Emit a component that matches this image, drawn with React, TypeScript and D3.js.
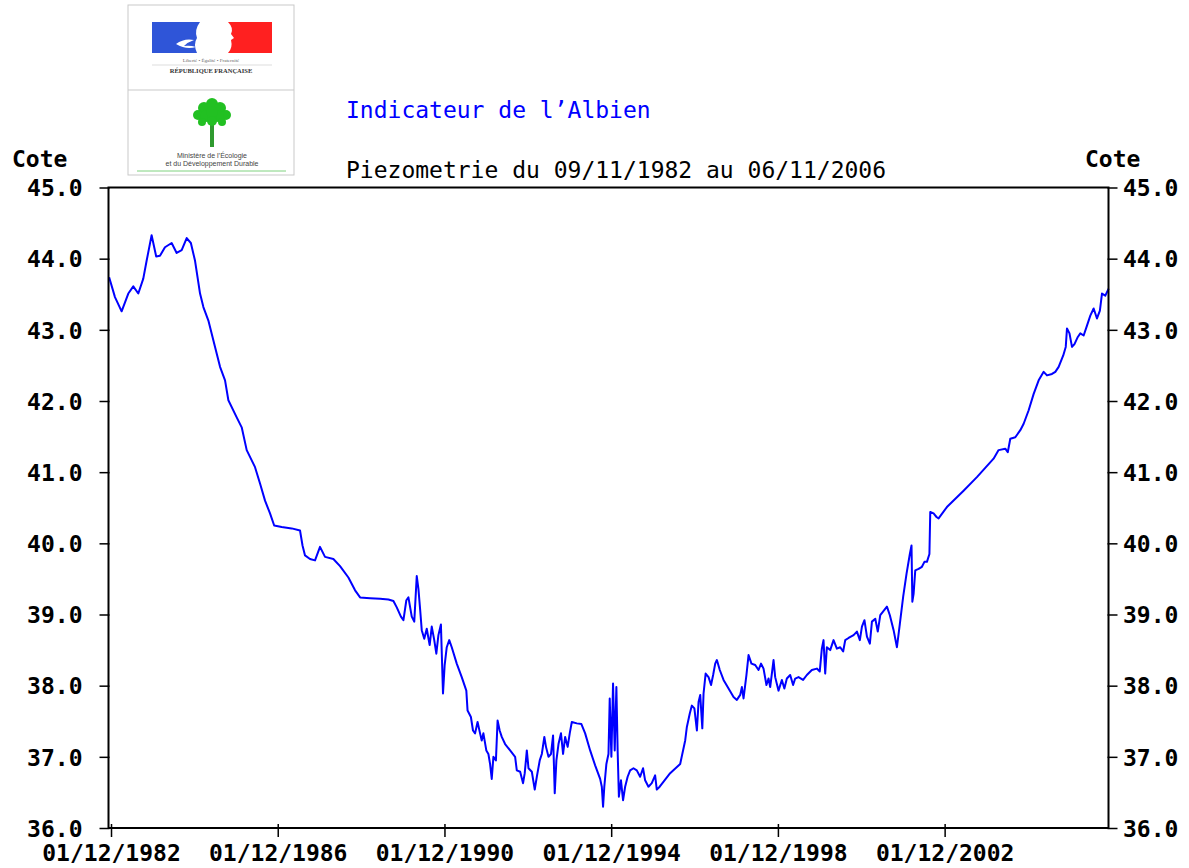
import { useEffect, useRef } from "react";
import * as d3 from "d3";

const obsYears = [
  1982.87, 1983.01, 1983.17, 1983.33, 1983.45, 1983.57, 1983.69, 1983.77, 1983.89, 1984.0,
  1984.09, 1984.21, 1984.37, 1984.49, 1984.61, 1984.73, 1984.83, 1984.93, 1985.05, 1985.13,
  1985.25, 1985.41, 1985.53, 1985.65, 1985.73, 1985.93, 1986.05, 1986.17, 1986.37, 1986.49,
  1986.61, 1986.73, 1986.83, 1987.01, 1987.25, 1987.45, 1987.51, 1987.57, 1987.69, 1987.81,
  1987.93, 1988.05, 1988.25, 1988.41, 1988.61, 1988.77, 1988.89, 1989.13, 1989.37, 1989.57,
  1989.69, 1989.77, 1989.87, 1989.93, 1990.0, 1990.05, 1990.13, 1990.19, 1990.25, 1990.29,
  1990.33, 1990.37, 1990.43, 1990.49, 1990.56, 1990.61, 1990.67, 1990.72, 1990.77, 1990.83,
  1990.88, 1990.92, 1990.97, 1991.03, 1991.09, 1991.21, 1991.33, 1991.44, 1991.47, 1991.55,
  1991.6, 1991.65, 1991.71, 1991.77, 1991.81, 1991.85, 1991.92, 1991.97, 1992.01, 1992.05,
  1992.09, 1992.15, 1992.19, 1992.24, 1992.29, 1992.37, 1992.49, 1992.61, 1992.65, 1992.73,
  1992.8, 1992.84, 1992.89, 1992.93, 1993.01, 1993.08, 1993.13, 1993.2, 1993.25, 1993.31,
  1993.35, 1993.41, 1993.47, 1993.52, 1993.56, 1993.6, 1993.65, 1993.71, 1993.76, 1993.81,
  1993.87, 1993.92, 1993.97, 1994.09, 1994.2, 1994.29, 1994.41, 1994.53, 1994.65, 1994.69,
  1994.72, 1994.75, 1994.8, 1994.85, 1994.88, 1994.92, 1994.96, 1995.0, 1995.04, 1995.07,
  1995.1, 1995.15, 1995.2, 1995.25, 1995.31, 1995.37, 1995.45, 1995.53, 1995.61, 1995.68,
  1995.73, 1995.81, 1995.89, 1995.97, 1996.01, 1996.08, 1996.33, 1996.57, 1996.69, 1996.73,
  1996.8, 1996.85, 1996.91, 1996.97, 1997.01, 1997.05, 1997.1, 1997.13, 1997.18, 1997.25,
  1997.31, 1997.36, 1997.41, 1997.45, 1997.52, 1997.61, 1997.73, 1997.85, 1997.93, 1998.01,
  1998.05, 1998.09, 1998.16, 1998.21, 1998.28, 1998.37, 1998.45, 1998.51, 1998.57, 1998.64,
  1998.69, 1998.73, 1998.81, 1998.85, 1998.93, 1999.01, 1999.07, 1999.13, 1999.21, 1999.28,
  1999.33, 1999.41, 1999.52, 1999.61, 1999.73, 1999.85, 1999.92, 1999.97, 2000.01, 2000.05,
  2000.09, 2000.17, 2000.25, 2000.33, 2000.41, 2000.48, 2000.53, 2000.61, 2000.73, 2000.81,
  2000.88, 2000.93, 2000.99, 2001.05, 2001.12, 2001.17, 2001.25, 2001.31, 2001.37, 2001.53,
  2001.6, 2001.69, 2001.77, 2001.84, 2001.92, 2002.0, 2002.08, 2002.12, 2002.14, 2002.17,
  2002.21, 2002.29, 2002.37, 2002.43, 2002.49, 2002.55, 2002.57, 2002.65, 2002.72, 2002.77,
  2002.97, 2003.37, 2003.69, 2004.09, 2004.21, 2004.37, 2004.43, 2004.49, 2004.61, 2004.73,
  2004.81, 2004.93, 2005.05, 2005.17, 2005.29, 2005.37, 2005.49, 2005.57, 2005.65, 2005.76,
  2005.82, 2005.85, 2005.91, 2005.97, 2006.03, 2006.11, 2006.17, 2006.25, 2006.33, 2006.41,
  2006.49, 2006.57, 2006.64, 2006.69, 2006.77, 2006.85,
];

const obsLevels = [
  43.74, 43.46, 43.26, 43.51, 43.61, 43.51, 43.72, 43.97, 44.33, 44.03,
  44.04, 44.16, 44.22, 44.08, 44.12, 44.29, 44.22, 43.97, 43.51, 43.32,
  43.13, 42.76, 42.48, 42.29, 42.01, 41.77, 41.63, 41.31, 41.07, 40.84,
  40.6, 40.42, 40.25, 40.23, 40.21, 40.18, 39.97, 39.83, 39.78, 39.76,
  39.95, 39.81, 39.78, 39.68, 39.52, 39.34, 39.24, 39.23, 39.22, 39.21,
  39.19, 39.1, 38.97, 38.92, 39.2, 39.24, 38.97, 38.9, 39.54, 39.36,
  39.08, 38.78, 38.66, 38.8, 38.57, 38.83, 38.64, 38.45, 38.71, 38.86,
  37.89, 38.29, 38.54, 38.64, 38.54, 38.31, 38.12, 37.93, 37.65, 37.56,
  37.37, 37.33, 37.49, 37.33, 37.23, 37.33, 37.09, 37.04, 36.9, 36.69,
  37.0, 36.95, 37.51, 37.37, 37.28, 37.18, 37.09, 37.0, 36.81, 36.79,
  36.63, 36.77, 37.09, 36.84, 36.79, 36.54, 36.72, 36.95, 37.04, 37.28,
  37.14, 37.0, 37.04, 37.3, 36.49, 36.95, 37.18, 37.33, 37.04, 37.28,
  37.14, 37.33, 37.49, 37.47, 37.46, 37.33, 37.09, 36.88, 36.69, 36.58,
  36.3, 36.58, 36.9, 37.04, 37.82, 37.0, 38.03, 37.09, 37.98, 37.09,
  36.44, 36.67, 36.39, 36.58, 36.72, 36.81, 36.84, 36.81, 36.72, 36.84,
  36.67, 36.58, 36.63, 36.74, 36.54, 36.58, 36.77, 36.9, 37.23, 37.42,
  37.61, 37.72, 37.68, 37.37, 37.77, 37.87, 37.4, 37.89, 38.17, 38.12,
  38.01, 38.15, 38.31, 38.36, 38.22, 38.08, 37.96, 37.84, 37.8, 37.87,
  37.98, 37.82, 38.15, 38.43, 38.31, 38.29, 38.22, 38.31, 38.24, 38.01,
  38.1, 37.98, 38.36, 38.12, 37.93, 38.08, 37.96, 38.1, 38.15, 38.01,
  38.1, 38.12, 38.08, 38.15, 38.22, 38.24, 38.2, 38.52, 38.64, 38.17,
  38.54, 38.5, 38.64, 38.52, 38.54, 38.48, 38.64, 38.67, 38.71, 38.76,
  38.64, 38.83, 38.92, 38.69, 38.59, 38.9, 38.94, 38.76, 38.99, 39.11,
  38.99, 38.78, 38.54, 38.87, 39.25, 39.57, 39.85, 39.97, 39.18, 39.29,
  39.62, 39.64, 39.67, 39.74, 39.74, 39.85, 40.44, 40.42, 40.37, 40.35,
  40.51, 40.74, 40.93, 41.19, 41.31, 41.33, 41.28, 41.47, 41.49, 41.59,
  41.68, 41.87, 42.1, 42.29, 42.41, 42.36, 42.38, 42.41, 42.48, 42.64,
  42.76, 43.02, 42.95, 42.76, 42.8, 42.9, 42.95, 42.92, 43.06, 43.2,
  43.3, 43.16, 43.27, 43.51, 43.48, 43.58,
];

const yTicks = [36, 37, 38, 39, 40, 41, 42, 43, 44, 45];
const xTickLabels = ["01/12/1982", "01/12/1986", "01/12/1990", "01/12/1994", "01/12/1998", "01/12/2002"];
const periodStart = "09/11/1982";
const periodEnd = "06/11/2006";

const FONT = "'DejaVu Sans Mono', 'Liberation Mono', monospace";
const plot = { left: 108.5, right: 1108.5, top: 187.5, bottom: 828 };

const parseDay = d3.timeParse("%d/%m/%Y");
const yearToDate = (y: number) => {
  const yr = Math.floor(y);
  const a = new Date(yr, 0, 1).getTime();
  const b = new Date(yr + 1, 0, 1).getTime();
  return new Date(a + (y - yr) * (b - a));
};

const Logo = () => {
  const leaves: [number, number, number][] = [
    [212, 104, 6], [204, 108, 6], [220, 108, 6], [198, 115, 5], [226, 115, 5],
    [206, 116, 6], [218, 116, 6], [212, 112, 6], [202, 122, 4], [222, 122, 4], [212, 121, 5],
  ];
  return (
    <g>
      <rect x={128} y={5} width={166} height={170} fill="#fff" stroke="#c9c9c9" />
      <line x1={128} x2={294} y1={90} y2={90} stroke="#c9c9c9" />
      <rect x={152} y={22} width={48} height={31} fill="#2f55d8" />
      <path d="M176 44 q8 -6 18 -4 q-6 2 -10 6 q6 -1 12 1 q-10 3 -20 -3z" fill="#fff" />
      <path d="M200 22 q-6 8 -3 16 q-4 6 0 15 h3z" fill="#fff" />
      <rect x={228} y={22} width={44} height={31} fill="#ff2020" />
      <path d="M228 22 q6 6 3 12 l3 4 l-3 2 q2 8 -3 13z" fill="#fff" />
      <text x={211} y={62} textAnchor="middle" fontSize={5} fill="#666" fontFamily="Liberation Serif">
        Liberté • Égalité • Fraternité
      </text>
      <line x1={152} x2={272} y1={65} y2={65} stroke="#bbb" strokeWidth={0.5} />
      <text x={211} y={73} textAnchor="middle" fontSize={6.5} fontWeight="bold" fill="#333" fontFamily="Liberation Serif">
        RÉPUBLIQUE FRANÇAISE
      </text>
      <rect x={210} y={122} width={4} height={25} fill="#2f9a2f" />
      {leaves.map(([cx, cy, r], i) => (
        <circle key={i} cx={cx} cy={cy} r={r} fill="#22c022" />
      ))}
      <text x={212} y={158} textAnchor="middle" fontSize={7} fill="#444" fontFamily="Liberation Sans">
        Ministère de l’Écologie
      </text>
      <text x={212} y={166} textAnchor="middle" fontSize={7} fill="#444" fontFamily="Liberation Sans">
        et du Développement Durable
      </text>
      <line x1={137} x2={286} y1={171} y2={171} stroke="#7fd27f" strokeWidth={1} />
    </g>
  );
};

const App = () => {
  const gRef = useRef<SVGGElement | null>(null);

  useEffect(() => {
    const g = d3.select(gRef.current);
    g.selectAll("*").remove();

    const data = obsYears.map((y, i) => ({ date: yearToDate(y), level: obsLevels[i] }));

    const x = d3
      .scaleTime()
      .domain([parseDay(periodStart) as Date, parseDay(periodEnd) as Date])
      .range([plot.left, plot.right]);

    const y = d3.scaleLinear().domain([36, 45]).range([plot.bottom, plot.top]);

    const line = d3
      .line<{ date: Date; level: number }>()
      .x((d) => x(d.date))
      .y((d) => y(d.level));

    g.append("path")
      .datum(data)
      .attr("fill", "none")
      .attr("stroke", "#0000ff")
      .attr("stroke-width", 2)
      .attr("stroke-linejoin", "round")
      .attr("d", line);

    // frame
    g.append("rect")
      .attr("x", plot.left)
      .attr("y", plot.top)
      .attr("width", plot.right - plot.left)
      .attr("height", plot.bottom - plot.top)
      .attr("fill", "none")
      .attr("stroke", "#000")
      .attr("stroke-width", 2);

    const styleAxis = (sel: any) => {
      sel.select(".domain").remove();
      sel.attr("font-family", FONT).attr("font-size", 23).attr("font-weight", "bold");
      sel.selectAll("line").attr("stroke", "#000").attr("stroke-width", 1.5);
      sel.selectAll("text").attr("fill", "#000");
    };

    const fmt = d3.format(".1f");

    const left = g
      .append("g")
      .attr("transform", `translate(${plot.left},0)`)
      .call(d3.axisLeft(y).tickValues(yTicks).tickFormat((d) => fmt(d as number)).tickSize(9));
    styleAxis(left);
    left.selectAll(".tick line").attr("x1", 1).attr("x2", -9);
    left.selectAll(".tick text").attr("x", -26).attr("dy", "0.36em");

    const right = g
      .append("g")
      .attr("transform", `translate(${plot.right},0)`)
      .call(d3.axisRight(y).tickValues(yTicks).tickFormat((d) => fmt(d as number)).tickSize(9));
    styleAxis(right);
    right.selectAll(".tick line").attr("x1", -1).attr("x2", 9);
    right.selectAll(".tick text").attr("x", 14.5).attr("dy", "0.36em");

    const bottom = g
      .append("g")
      .attr("transform", `translate(0,${plot.bottom})`)
      .call(
        d3
          .axisBottom(x)
          .tickValues(xTickLabels.map((s) => parseDay(s) as Date))
          .tickFormat((d) => d3.timeFormat("%d/%m/%Y")(d as Date))
          .tickSize(8)
      );
    styleAxis(bottom);
    bottom.selectAll(".tick line").attr("y1", -4).attr("y2", 9);
    bottom.selectAll(".tick text").attr("y", 33).attr("dy", 0);
  }, []);

  return (
    <svg
      width={1189}
      height={868}
      style={{ position: "absolute", left: 0, top: 0, background: "#fff" }}
    >
      <Logo />
      <text x={346} y={118} fontFamily={FONT} fontSize={23} fill="#0000ff">
        Indicateur de l’Albien
      </text>
      <text x={346} y={178} fontFamily={FONT} fontSize={23} fill="#000">
        {`Piezometrie du ${periodStart} au ${periodEnd}`}
      </text>
      <text x={12} y={167} fontFamily={FONT} fontSize={23} fontWeight="bold" fill="#000">
        Cote
      </text>
      <text x={1085} y={167} fontFamily={FONT} fontSize={23} fontWeight="bold" fill="#000">
        Cote
      </text>
      <g ref={gRef} />
    </svg>
  );
};

export default App;
